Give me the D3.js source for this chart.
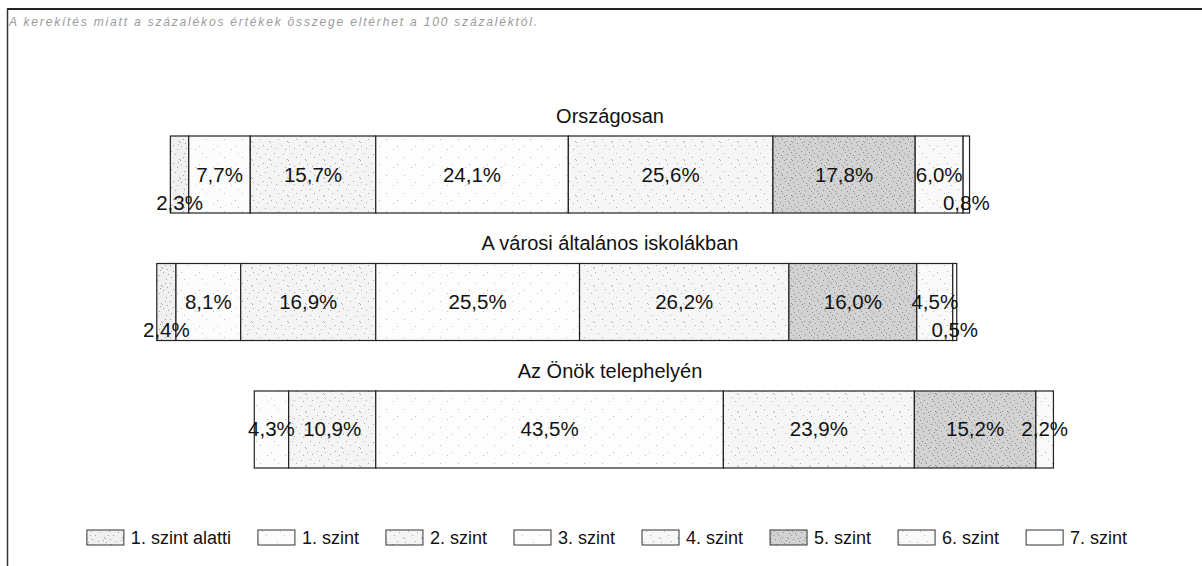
<!DOCTYPE html>
<html>
<head>
<meta charset="utf-8">
<script src="https://cdn.jsdelivr.net/npm/d3@7"></script>
<style>
  body { margin: 0; background: #fff; }
  svg { display: block; font-family: "Liberation Sans", Arial, sans-serif; }
</style>
</head>
<body>
<svg id="chart" width="1202" height="566"></svg>
<script>
// data
var note = "A kerekítés miatt a százalékos értékek összege eltérhet a 100 százaléktól.";
var levels = ["1. szint alatti", "1. szint", "2. szint", "3. szint", "4. szint", "5. szint", "6. szint", "7. szint"];
var groups = ["Országosan", "A városi általános iskolákban", "Az Önök telephelyén"];
var orszagosan = [2.3, 7.7, 15.7, 24.1, 25.6, 17.8, 6.0, 0.8];
var varosi = [2.4, 8.1, 16.9, 25.5, 26.2, 16.0, 4.5, 0.5];
var telephely = [0, 4.3, 10.9, 43.5, 23.9, 15.2, 2.2, 0];
var values = [orszagosan, varosi, telephely];

// stipple look of the printed patterns
var fills = [
  {base: "#f0f0f0", dot: "#a0a0a0", n: 13},
  {base: "#fcfcfc", dot: "#bbb", n: 4},
  {base: "#f4f4f4", dot: "#aaa", n: 9},
  {base: "#fdfdfd", dot: "#bbb", n: 3},
  {base: "#f6f6f6", dot: "#b0b0b0", n: 7},
  {base: "#d2d2d2", dot: "#8e8e8e", n: 20},
  {base: "#f9f9f9", dot: "#b4b4b4", n: 5},
  {base: "#ffffff", dot: "#fff", n: 0}
];
var dotSpots = [[1,2],[8,13],[15,5],[4,9],[11,1],[17,15],[0,16],[6,4],[13,10],[3,13],[9,7],[16,0],
                [5,17],[12,15],[2,6],[14,3],[7,11],[10,16],[17,8],[1,11],[6,0],[12,6],[4,3],[15,12]];

var svg = d3.select("#chart");
var defs = svg.append("defs");

fills.forEach(function(f, i) {
  var p = defs.append("pattern")
    .attr("id", "pat" + i)
    .attr("width", 18).attr("height", 18)
    .attr("patternUnits", "userSpaceOnUse");
  p.append("rect").attr("width", 18).attr("height", 18).attr("fill", f.base);
  p.selectAll("rect.d").data(dotSpots.slice(0, f.n)).enter().append("rect")
    .attr("class", "d")
    .attr("x", function(d) { return d[0]; })
    .attr("y", function(d) { return d[1]; })
    .attr("width", 1).attr("height", 1)
    .attr("fill", f.dot);
});

// frame + note
svg.append("line").attr("x1", 7).attr("x2", 1202).attr("y1", 9).attr("y2", 9)
  .attr("stroke", "#222").attr("stroke-width", 2);
svg.append("line").attr("x1", 7.5).attr("x2", 7.5).attr("y1", 9).attr("y2", 566)
  .attr("stroke", "#333").attr("stroke-width", 1.5);
svg.append("text")
  .attr("x", 9).attr("y", 26)
  .attr("font-size", 12).attr("font-style", "italic")
  .attr("fill", "#9a9a9a")
  .attr("textLength", 528).attr("lengthAdjust", "spacing")
  .text(note);

// scales: bars are aligned at the 2./3. szint boundary
var x = d3.scaleLinear().domain([-30, 90]).range([136, 1095]);
var y = d3.scaleBand().domain(groups).range([136, 468]).paddingInner(0.396).paddingOuter(0);

var fmt = function(v) { return d3.format(".1f")(v).replace(".", ",") + "%"; };

groups.forEach(function(g, gi) {
  var vals = values[gi];
  var start = -(vals[0] + vals[1] + vals[2]);
  var segs = [];
  var acc = start;
  vals.forEach(function(v, i) {
    segs.push({level: i, v: v, x0: acc, x1: acc + v});
    acc += v;
  });
  segs = segs.filter(function(s) { return s.v > 0; });

  var top = y(g), h = y.bandwidth();

  svg.append("text")
    .attr("x", 610).attr("y", top - 13)
    .attr("text-anchor", "middle")
    .attr("font-size", 20).attr("fill", "#111")
    .text(g);

  var grp = svg.append("g");
  grp.selectAll("rect").data(segs).enter().append("rect")
    .attr("x", function(d) { return x(d.x0); })
    .attr("y", top)
    .attr("width", function(d) { return x(d.x1) - x(d.x0); })
    .attr("height", h)
    .attr("fill", function(d) { return "url(#pat" + d.level + ")"; })
    .attr("stroke", "#222")
    .attr("stroke-width", 1.2);

  grp.selectAll("text").data(segs).enter().append("text")
    .attr("x", function(d) { return (x(d.x0) + x(d.x1)) / 2; })
    .attr("y", function(d) {
      var low = (d.level === 0 || d.level === levels.length - 1);
      return top + h / 2 + 7 + (low ? 28 : 0);
    })
    .attr("text-anchor", "middle")
    .attr("font-size", 20.5).attr("fill", "#111")
    .text(function(d) { return fmt(d.v); });
});

// legend
var legend = svg.append("g");
var items = legend.selectAll("g").data(levels).enter().append("g");
items.append("rect")
  .attr("width", 37).attr("height", 15)
  .attr("y", 530)
  .attr("fill", function(d, i) { return "url(#pat" + i + ")"; })
  .attr("stroke", "#333").attr("stroke-width", 1);
items.append("text")
  .attr("x", 44).attr("y", 544)
  .attr("font-size", 18).attr("fill", "#111")
  .text(function(d) { return d; });

var pos = [], cur = 0;
items.each(function() {
  pos.push(cur);
  cur += 44 + d3.select(this).select("text").node().getComputedTextLength() + 27;
});
var total = cur - 27;
var lx = 607 - total / 2;
items.attr("transform", function(d, i) { return "translate(" + (lx + pos[i]) + ",0)"; });
</script>
</body>
</html>
